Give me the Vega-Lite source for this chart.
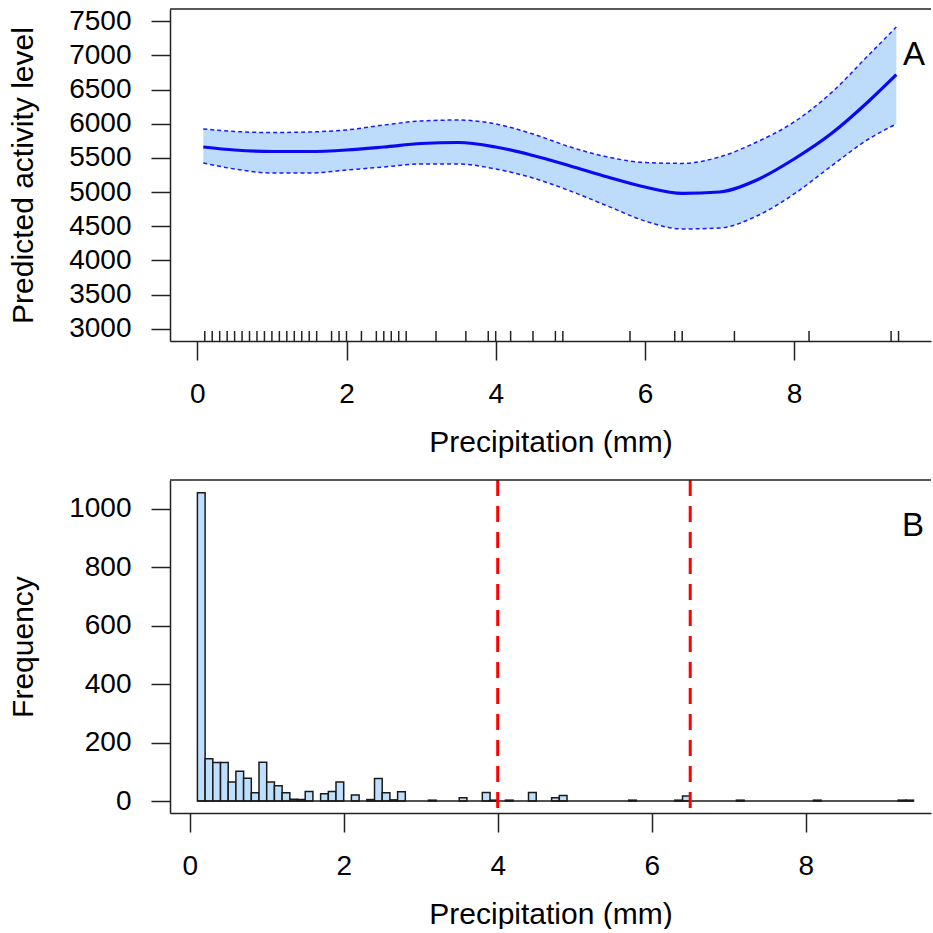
{
  "$schema": "https://vega.github.io/schema/vega-lite/v6.json",
  "description": "Predicted activity level vs precipitation (A) and histogram of precipitation (B).",
  "background": "white",
  "padding": {"left": 8, "top": 7, "right": 0, "bottom": 0},
  "spacing": 21,
  "datasets": {
    "fit": [
      {"precip": 0.08, "fit": 5660, "lower": 5426, "upper": 5924},
      {"precip": 0.5, "fit": 5616, "lower": 5338, "upper": 5887},
      {"precip": 1, "fit": 5594, "lower": 5279, "upper": 5872},
      {"precip": 1.5, "fit": 5594, "lower": 5279, "upper": 5880},
      {"precip": 2, "fit": 5616, "lower": 5323, "upper": 5909},
      {"precip": 2.5, "fit": 5660, "lower": 5367, "upper": 5982},
      {"precip": 3, "fit": 5711, "lower": 5411, "upper": 6041},
      {"precip": 3.5, "fit": 5726, "lower": 5411, "upper": 6055},
      {"precip": 4, "fit": 5660, "lower": 5338, "upper": 5997},
      {"precip": 4.5, "fit": 5535, "lower": 5206, "upper": 5850},
      {"precip": 5, "fit": 5382, "lower": 5016, "upper": 5660},
      {"precip": 5.5, "fit": 5221, "lower": 4796, "upper": 5514},
      {"precip": 6, "fit": 5074, "lower": 4577, "upper": 5433},
      {"precip": 6.5, "fit": 4980, "lower": 4460, "upper": 5420},
      {"precip": 7, "fit": 5001, "lower": 4474, "upper": 5514},
      {"precip": 7.5, "fit": 5177, "lower": 4650, "upper": 5733},
      {"precip": 8, "fit": 5484, "lower": 4972, "upper": 6026},
      {"precip": 8.5, "fit": 5857, "lower": 5382, "upper": 6456},
      {"precip": 9, "fit": 6330, "lower": 5777, "upper": 7007},
      {"precip": 9.37, "fit": 6718, "lower": 5997, "upper": 7417}
    ],
    "rug": [
      {"precip": 0.1}, {"precip": 0.2}, {"precip": 0.3}, {"precip": 0.4}, {"precip": 0.5},
      {"precip": 0.6}, {"precip": 0.7}, {"precip": 0.8}, {"precip": 0.9}, {"precip": 1.0},
      {"precip": 1.1}, {"precip": 1.2}, {"precip": 1.3}, {"precip": 1.4}, {"precip": 1.5},
      {"precip": 1.6}, {"precip": 1.8}, {"precip": 1.9}, {"precip": 2.0}, {"precip": 2.2},
      {"precip": 2.4}, {"precip": 2.5}, {"precip": 2.6}, {"precip": 2.7}, {"precip": 2.8},
      {"precip": 3.2}, {"precip": 3.6}, {"precip": 3.9}, {"precip": 4.0}, {"precip": 4.2},
      {"precip": 4.5}, {"precip": 4.8}, {"precip": 4.9}, {"precip": 5.8}, {"precip": 6.4},
      {"precip": 6.5}, {"precip": 7.2}, {"precip": 8.2}, {"precip": 9.3}, {"precip": 9.4}
    ],
    "hist": [
      {"bin_start": 0.1, "bin_end": 0.2, "count": 1055},
      {"bin_start": 0.2, "bin_end": 0.3, "count": 145},
      {"bin_start": 0.3, "bin_end": 0.4, "count": 132},
      {"bin_start": 0.4, "bin_end": 0.5, "count": 132},
      {"bin_start": 0.5, "bin_end": 0.6, "count": 65},
      {"bin_start": 0.6, "bin_end": 0.7, "count": 102},
      {"bin_start": 0.7, "bin_end": 0.8, "count": 78},
      {"bin_start": 0.8, "bin_end": 0.9, "count": 28},
      {"bin_start": 0.9, "bin_end": 1.0, "count": 133},
      {"bin_start": 1.0, "bin_end": 1.1, "count": 65},
      {"bin_start": 1.1, "bin_end": 1.2, "count": 52},
      {"bin_start": 1.2, "bin_end": 1.3, "count": 28},
      {"bin_start": 1.3, "bin_end": 1.4, "count": 6},
      {"bin_start": 1.4, "bin_end": 1.5, "count": 5},
      {"bin_start": 1.5, "bin_end": 1.6, "count": 33},
      {"bin_start": 1.7, "bin_end": 1.8, "count": 25},
      {"bin_start": 1.8, "bin_end": 1.9, "count": 33},
      {"bin_start": 1.9, "bin_end": 2.0, "count": 65},
      {"bin_start": 2.1, "bin_end": 2.2, "count": 21},
      {"bin_start": 2.3, "bin_end": 2.4, "count": 5},
      {"bin_start": 2.4, "bin_end": 2.5, "count": 77},
      {"bin_start": 2.5, "bin_end": 2.6, "count": 28},
      {"bin_start": 2.6, "bin_end": 2.7, "count": 4},
      {"bin_start": 2.7, "bin_end": 2.8, "count": 32},
      {"bin_start": 3.1, "bin_end": 3.2, "count": 3},
      {"bin_start": 3.5, "bin_end": 3.6, "count": 11},
      {"bin_start": 3.8, "bin_end": 3.9, "count": 29},
      {"bin_start": 3.9, "bin_end": 4.0, "count": 3},
      {"bin_start": 4.1, "bin_end": 4.2, "count": 3},
      {"bin_start": 4.4, "bin_end": 4.5, "count": 29},
      {"bin_start": 4.7, "bin_end": 4.8, "count": 11},
      {"bin_start": 4.8, "bin_end": 4.9, "count": 19},
      {"bin_start": 5.7, "bin_end": 5.8, "count": 3},
      {"bin_start": 6.3, "bin_end": 6.4, "count": 3},
      {"bin_start": 6.4, "bin_end": 6.5, "count": 17},
      {"bin_start": 7.1, "bin_end": 7.2, "count": 3},
      {"bin_start": 8.1, "bin_end": 8.2, "count": 3},
      {"bin_start": 9.2, "bin_end": 9.3, "count": 3},
      {"bin_start": 9.3, "bin_end": 9.4, "count": 3}
    ],
    "cuts": [{"precip": 4}, {"precip": 6.5}]
  },
  "vconcat": [
    {
      "width": 761,
      "height": 332,
      "layer": [
        {
          "data": {"name": "fit"},
          "mark": {"type": "area", "color": "#BDDCFC", "opacity": 1, "interpolate": "monotone"},
          "encoding": {
            "x": {
              "field": "precip",
              "type": "quantitative",
              "title": "Precipitation (mm)",
              "scale": {"domain": [-0.366, 9.835], "nice": false, "zero": false},
              "axis": {"values": [0, 2, 4, 6, 8], "format": "d"}
            },
            "y": {
              "field": "lower",
              "type": "quantitative",
              "title": "Predicted activity level",
              "scale": {"domain": [2820, 7680], "nice": false, "zero": false},
              "axis": {"values": [3000, 3500, 4000, 4500, 5000, 5500, 6000, 6500, 7000, 7500], "format": "d", "labelOverlap": false}
            },
            "y2": {"field": "upper"}
          }
        },
        {
          "data": {"name": "fit"},
          "mark": {"type": "line", "color": "#1a1aff", "strokeWidth": 1.5, "strokeDash": [4, 3], "interpolate": "monotone"},
          "encoding": {
            "x": {"field": "precip", "type": "quantitative", "title": "Precipitation (mm)", "axis": {"values": [0, 2, 4, 6, 8], "format": "d"}},
            "y": {"field": "upper", "type": "quantitative", "title": "Predicted activity level", "axis": {"values": [3000, 3500, 4000, 4500, 5000, 5500, 6000, 6500, 7000, 7500], "format": "d", "labelOverlap": false}}
          }
        },
        {
          "data": {"name": "fit"},
          "mark": {"type": "line", "color": "#1a1aff", "strokeWidth": 1.5, "strokeDash": [4, 3], "interpolate": "monotone"},
          "encoding": {
            "x": {"field": "precip", "type": "quantitative", "title": "Precipitation (mm)", "axis": {"values": [0, 2, 4, 6, 8], "format": "d"}},
            "y": {"field": "lower", "type": "quantitative", "title": "Predicted activity level", "axis": {"values": [3000, 3500, 4000, 4500, 5000, 5500, 6000, 6500, 7000, 7500], "format": "d", "labelOverlap": false}}
          }
        },
        {
          "data": {"name": "fit"},
          "mark": {"type": "line", "color": "#0a0af0", "strokeWidth": 3.2, "interpolate": "monotone"},
          "encoding": {
            "x": {"field": "precip", "type": "quantitative", "title": "Precipitation (mm)", "axis": {"values": [0, 2, 4, 6, 8], "format": "d"}},
            "y": {"field": "fit", "type": "quantitative", "title": "Predicted activity level", "axis": {"values": [3000, 3500, 4000, 4500, 5000, 5500, 6000, 6500, 7000, 7500], "format": "d", "labelOverlap": false}}
          }
        },
        {
          "data": {"name": "rug"},
          "mark": {"type": "rule", "color": "#222222", "strokeWidth": 1.5},
          "encoding": {
            "x": {"field": "precip", "type": "quantitative", "title": "Precipitation (mm)", "axis": {"values": [0, 2, 4, 6, 8], "format": "d"}},
            "y": {"datum": 2820, "type": "quantitative", "title": "Predicted activity level", "axis": {"values": [3000, 3500, 4000, 4500, 5000, 5500, 6000, 6500, 7000, 7500], "format": "d", "labelOverlap": false}},
            "y2": {"datum": 2966}
          }
        },
        {
          "data": {"values": [{}]},
          "mark": {"type": "rule", "color": "#222222", "strokeWidth": 1.5},
          "encoding": {
            "y": {"datum": 7680, "type": "quantitative", "title": "Predicted activity level", "axis": {"values": [3000, 3500, 4000, 4500, 5000, 5500, 6000, 6500, 7000, 7500], "format": "d", "labelOverlap": false}}
          }
        },
        {
          "data": {"values": [{}]},
          "mark": {"type": "text", "text": "A", "fontSize": 33, "color": "black", "baseline": "middle", "align": "center"},
          "encoding": {
            "x": {"datum": 9.607, "type": "quantitative", "title": "Precipitation (mm)", "axis": {"values": [0, 2, 4, 6, 8], "format": "d"}},
            "y": {"datum": 7007, "type": "quantitative", "title": "Predicted activity level", "axis": {"values": [3000, 3500, 4000, 4500, 5000, 5500, 6000, 6500, 7000, 7500], "format": "d", "labelOverlap": false}}
          }
        }
      ]
    },
    {
      "width": 761,
      "height": 333,
      "layer": [
        {
          "data": {"name": "hist"},
          "mark": {"type": "rect", "fill": "#BFDFFF", "stroke": "#1a1a1a", "strokeWidth": 1.5},
          "encoding": {
            "x": {
              "field": "bin_start",
              "type": "quantitative",
              "title": "Precipitation (mm)",
              "scale": {"domain": [-0.256, 9.627], "nice": false, "zero": false},
              "axis": {"values": [0, 2, 4, 6, 8], "format": "d"}
            },
            "x2": {"field": "bin_end"},
            "y": {
              "field": "count",
              "type": "quantitative",
              "title": "Frequency",
              "scale": {"domain": [-41, 1099], "nice": false, "zero": false},
              "axis": {"values": [0, 200, 400, 600, 800, 1000], "format": "d", "labelOverlap": false}
            },
            "y2": {"datum": 0}
          }
        },
        {
          "data": {"values": [{}]},
          "mark": {"type": "rule", "color": "#1a1a1a", "strokeWidth": 1.5},
          "encoding": {
            "x": {"datum": 0.1, "type": "quantitative", "title": "Precipitation (mm)", "axis": {"values": [0, 2, 4, 6, 8], "format": "d"}},
            "x2": {"datum": 9.4},
            "y": {"datum": 0, "type": "quantitative", "title": "Frequency", "axis": {"values": [0, 200, 400, 600, 800, 1000], "format": "d", "labelOverlap": false}}
          }
        },
        {
          "data": {"name": "cuts"},
          "mark": {"type": "rule", "color": "#ff0000", "strokeWidth": 3, "strokeDash": [16, 10]},
          "encoding": {
            "x": {"field": "precip", "type": "quantitative", "title": "Precipitation (mm)", "axis": {"values": [0, 2, 4, 6, 8], "format": "d"}}
          }
        },
        {
          "data": {"values": [{}]},
          "mark": {"type": "rule", "color": "#222222", "strokeWidth": 1.5},
          "encoding": {
            "y": {"datum": 1099, "type": "quantitative", "title": "Frequency", "axis": {"values": [0, 200, 400, 600, 800, 1000], "format": "d", "labelOverlap": false}}
          }
        },
        {
          "data": {"values": [{}]},
          "mark": {"type": "text", "text": "B", "fontSize": 33, "color": "black", "baseline": "middle", "align": "center"},
          "encoding": {
            "x": {"datum": 9.394, "type": "quantitative", "title": "Precipitation (mm)", "axis": {"values": [0, 2, 4, 6, 8], "format": "d"}},
            "y": {"datum": 941, "type": "quantitative", "title": "Frequency", "axis": {"values": [0, 200, 400, 600, 800, 1000], "format": "d", "labelOverlap": false}}
          }
        }
      ]
    }
  ],
  "config": {
    "font": "Liberation Sans",
    "view": {"stroke": null},
    "axis": {
      "grid": false,
      "domainColor": "#222222",
      "domainWidth": 1.5,
      "tickColor": "#222222",
      "tickWidth": 1.5,
      "tickSize": 19,
      "labelFont": "Liberation Sans",
      "labelFontSize": 28,
      "labelColor": "black",
      "labelFlush": false,
      "labelOverlap": false,
      "titleFont": "Liberation Sans",
      "titleFontSize": 30,
      "titleFontWeight": "normal",
      "titleColor": "black"
    },
    "axisX": {"labelPadding": 20, "titlePadding": 19, "labelAngle": 0},
    "axisY": {"labelPadding": 20, "titlePadding": 30.5}
  }
}
